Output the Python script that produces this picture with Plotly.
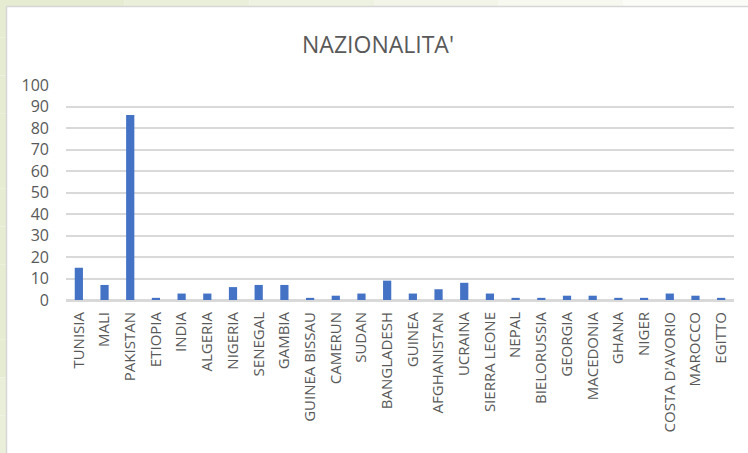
import plotly.graph_objects as go

countries = ["TUNISIA", "MALI", "PAKISTAN", "ETIOPIA", "INDIA", "ALGERIA", "NIGERIA",
             "SENEGAL", "GAMBIA", "GUINEA BISSAU", "CAMERUN", "SUDAN", "BANGLADESH",
             "GUINEA", "AFGHANISTAN", "UCRAINA", "SIERRA LEONE", "NEPAL", "BIELORUSSIA",
             "GEORGIA", "MACEDONIA", "GHANA", "NIGER", "COSTA D'AVORIO", "MAROCCO", "EGITTO"]
values = [15, 7, 86, 1, 3, 3, 6, 7, 7, 1, 2, 3, 9, 3, 5, 8, 3, 1, 1, 2, 2, 1, 1, 3, 2, 1]
y_ticks = [0, 10, 20, 30, 40, 50, 60, 70, 80, 90, 100]

W, H = 748, 453
L, R, T, B = 66, 14, 85, 153

fig = go.Figure(go.Bar(x=countries, y=values, marker_color="#4472C4",
                       marker_line_width=0, hoverinfo="skip"))

pw, ph = W - L - R, H - T - B
def px(x):
    return (x - L) / pw
def py(y):
    return 1 - (y - T) / ph

shapes = []
greens = ["#E6ECD2", "#EAEFD9", "#EEF2E0", "#F2F5E8", "#F7F9F0", "#FBFCF7"]
n = len(greens)
for i, c in enumerate(greens):
    shapes.append(dict(type="rect", xref="paper", yref="paper", layer="below",
                       x0=px(W * i / n), x1=px(W * (i + 1) / n), y0=py(0), y1=py(7),
                       fillcolor=c, line_width=0))
for i in range(12):
    c = greens[0] if i < 10 else greens[1]
    shapes.append(dict(type="rect", xref="paper", yref="paper", layer="below",
                       x0=px(0), x1=px(6), y0=py(H * i / 12), y1=py(H * (i + 1) / 12),
                       fillcolor=c, line_width=0))
shapes.append(dict(type="line", xref="paper", yref="paper", layer="below",
                   x0=px(6.5), x1=px(W), y0=py(6.5), y1=py(6.5),
                   line=dict(color="#D6D6D6", width=1.5)))
shapes.append(dict(type="line", xref="paper", yref="paper", layer="below",
                   x0=px(6.5), x1=px(6.5), y0=py(6.5), y1=py(H),
                   line=dict(color="#D6D6D6", width=1.5)))

fig.update_layout(
    width=W, height=H,
    margin=dict(l=L, r=R, t=T, b=B, autoexpand=False),
    paper_bgcolor="white", plot_bgcolor="white",
    bargap=0.68,
    showlegend=False,
    shapes=shapes,
    font=dict(family="Open Sans", color="#595959"),
    title=dict(text="NAZIONALITA'", x=378 / W, xref="container", xanchor="center",
               y=1 - 45 / H, yref="container", yanchor="middle",
               font=dict(size=23, color="#595959", family="Open Sans")),
    xaxis=dict(tickangle=-90, tickfont=dict(size=15, color="#595959"),
               showgrid=False, showline=True, linecolor="#D9D9D9", linewidth=2,
               ticks="", ticklabelstandoff=4, fixedrange=True),
    yaxis=dict(range=[0, 100], tickvals=y_ticks, ticktext=[str(v) for v in y_ticks],
               tickfont=dict(size=16, color="#595959"),
               showgrid=True, gridcolor="#D9D9D9", gridwidth=2,
               zeroline=True, zerolinecolor="#D9D9D9", zerolinewidth=2,
               showline=False, ticks="", ticklabelstandoff=16, fixedrange=True),
)

fig.write_html("out.html", config={"displayModeBar": False},
               post_script="document.body.style.margin='0';document.body.style.overflow='hidden';")
